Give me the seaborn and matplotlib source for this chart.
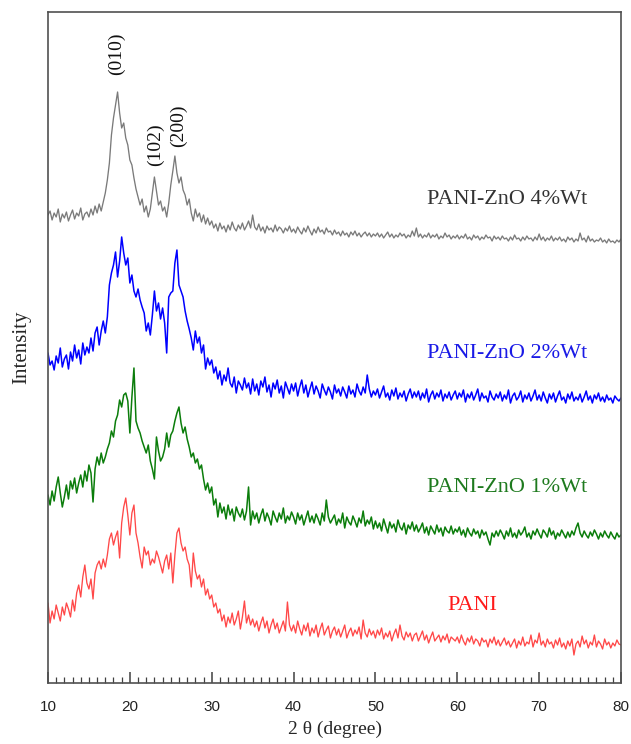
import numpy as np
import pandas as pd
import matplotlib
matplotlib.use("Agg")
import matplotlib.pyplot as plt
import seaborn as sns
from matplotlib.ticker import MultipleLocator

# 2-theta grid (degrees), 0.25 deg sampling from 10 to 80
two_theta = np.arange(10.0, 80.0 + 1e-9, 0.25)

# Intensities (arbitrary units, curves already stacked with their offsets)
zno4 = [
    468, 472, 463, 470, 466, 474, 461, 469, 465, 471, 462, 468, 473, 464, 470, 467, 475, 463, 469, 471,
    466, 474, 468, 477, 470, 479, 472, 481, 490, 503, 520, 548, 565, 578, 591, 570, 555, 560, 545, 538,
    523, 518, 505, 494, 486, 478, 484, 471, 477, 466, 474, 490, 506, 492, 478, 482, 472, 476, 466, 480,
    498, 512, 527, 510, 500, 506, 493, 488, 478, 484, 470, 462, 474, 466, 470, 461, 468, 459, 465, 458,
    462, 455, 459, 452, 460, 454, 457, 451, 458, 453, 461, 455, 452, 458, 454, 460, 453, 457, 462, 455,
    468, 456, 453, 459, 452, 456, 450, 457, 453, 455, 451, 458, 452, 456, 454, 450, 455, 452, 457, 451,
    454, 450, 456, 452, 449, 455, 451, 457, 452, 448, 454, 450, 456, 451, 453, 449, 455, 451, 452, 448,
    453, 449, 451, 447, 452, 448, 450, 446, 451, 448, 452, 447, 450, 446, 449, 451, 447, 450, 446, 449,
    447, 450, 446, 449, 445, 448, 451, 446, 449, 445, 448, 446, 450, 447, 449, 445, 448, 446, 452, 447,
    455, 446, 449, 445, 448, 446, 450, 445, 448, 446, 449, 444, 447, 445, 450, 446, 448, 444, 447, 445,
    448, 444, 447, 445, 449, 444, 446, 443, 448, 445, 447, 443, 446, 444, 448, 445, 446, 442, 447, 444,
    446, 443, 447, 444, 445, 442, 446, 443, 448, 444, 445, 442, 446, 443, 447, 444, 445, 442, 446, 443,
    449, 443, 446, 442, 445, 443, 447, 442, 445, 443, 446, 442, 444, 441, 446, 443, 445, 441, 444, 442,
    450, 443, 445, 441, 447, 442, 444, 441, 443, 442, 445, 441, 443, 440, 444, 441, 442, 440, 443, 441,
    444,
]

zno2 = [
    330, 318, 322, 313, 327, 320, 335, 316, 324, 328, 314, 331, 322, 338, 325, 333, 319, 340, 328, 336,
    330, 345, 332, 350, 356, 338, 352, 362, 350, 366, 398, 410, 418, 431, 406, 422, 446, 430, 418, 425,
    400, 408, 392, 386, 394, 383, 376, 370, 352, 360, 348, 368, 392, 372, 380, 364, 375, 360, 330, 386,
    390, 392, 420, 433, 398, 392, 386, 372, 362, 354, 345, 333, 352, 340, 346, 330, 338, 314, 325, 318,
    323, 310, 316, 304, 312, 298, 308, 302, 315, 300, 296, 306, 290, 302, 298, 293, 305, 295, 300, 289,
    304, 292, 299, 288, 302, 296, 306, 291, 298, 286, 300, 294, 303, 290, 297, 285, 301, 295, 289, 299,
    292, 300, 287, 296, 303, 290, 298, 286, 294, 301, 289, 297, 292, 285, 299, 293, 288, 296, 291, 284,
    298, 290, 294, 287, 296, 291, 285, 297, 289, 293, 286, 299, 292, 288, 296, 290, 308, 294, 286, 292,
    288, 294, 285, 291, 297, 286, 290, 283, 293, 287, 295, 284, 290, 286, 292, 282, 289, 294, 285, 291,
    286, 292, 283, 290, 285, 294, 281, 288, 292, 284, 290, 286, 293, 282, 289, 285, 291, 283, 288, 292,
    284, 290, 286, 293, 281, 289, 285, 291, 283, 288, 294, 282, 290, 285, 287, 281, 292, 286, 283, 289,
    285, 291, 282, 288, 284, 293, 280, 287, 290, 283, 286, 292, 281, 288, 284, 290, 282, 287, 293, 283,
    288, 282, 291, 285, 280, 289, 284, 290, 281, 287, 292, 283, 286, 280, 289, 284, 291, 282, 286, 283,
    289, 281, 286, 292, 283, 287, 280, 288, 284, 290, 282, 286, 281, 288, 283, 285, 280, 287, 284, 282,
    285,
]

zno1 = [
    188, 178, 192, 182, 196, 206, 190, 176, 186, 198, 184, 202, 194, 205, 190, 200, 208, 196, 212, 202,
    218, 210, 181, 214, 226, 218, 230, 220, 226, 234, 240, 252, 246, 262, 268, 283, 276, 288, 290, 282,
    250, 286, 315, 262, 255, 250, 242, 236, 230, 238, 222, 214, 204, 246, 232, 222, 226, 234, 250, 236,
    248, 252, 262, 270, 276, 260, 250, 256, 244, 236, 226, 230, 220, 224, 214, 218, 204, 193, 200, 190,
    196, 178, 184, 166, 180, 170, 176, 164, 178, 168, 174, 162, 176, 170, 166, 174, 163, 172, 196, 158,
    172, 164, 170, 160, 168, 174, 162, 170, 165, 158, 172, 166, 161, 170, 164, 175, 160, 167, 163, 171,
    166, 159, 170, 163, 168, 158, 165, 172, 161, 167, 160, 169, 164, 158, 170, 162, 183, 166, 160, 164,
    168, 158, 164, 160, 170, 155, 166, 161, 158, 167, 162, 156, 165, 160, 172, 157, 163, 159, 166, 154,
    162, 155, 160, 152, 164, 157, 150, 161, 155, 159, 151, 163, 156, 153, 160, 149, 158, 154, 161, 152,
    158, 151, 155, 160, 150, 156, 148, 157, 153, 149, 158, 151, 155, 147, 156, 152, 150, 157, 149, 154,
    151, 156, 148, 153, 146, 155, 150, 147, 154, 149, 152, 145, 153, 148, 151, 144, 138, 150, 146, 152,
    147, 153, 149, 144, 152, 147, 155, 146, 150, 145, 153, 148, 151, 156, 146, 150, 144, 152, 148, 154,
    149, 145, 153, 150, 146, 155, 148, 152, 144, 150, 147, 153, 149, 145, 151, 146, 152, 148, 155, 160,
    150, 146, 152, 148, 145, 151, 147, 153, 149, 144, 150, 146, 152, 148, 145, 151, 147, 144, 150, 146,
    148,
]

pani = [
    80, 60, 72, 64, 78, 70, 62, 76, 68, 80, 74, 66, 83, 72, 90, 98, 86, 106, 118, 100,
    94, 104, 84, 110, 118, 122, 114, 124, 116, 128, 144, 150, 138, 146, 152, 125, 160, 176, 185, 168,
    148, 170, 178, 150, 140, 126, 115, 136, 128, 132, 118, 124, 120, 132, 126, 118, 110, 122, 128, 114,
    130, 100, 128, 150, 155, 140, 132, 136, 124, 118, 96, 130, 112, 104, 108, 96, 104, 88, 94, 84,
    88, 76, 80, 70, 74, 62, 68, 56, 66, 60, 70, 58, 64, 72, 54, 66, 82, 60, 68, 58,
    64, 56, 62, 52, 60, 66, 55, 62, 50, 58, 64, 54, 60, 50, 56, 62, 52, 81, 58, 52,
    58, 50, 62, 54, 48, 58, 52, 60, 47, 55, 50, 58, 46, 54, 60, 48, 53, 57, 45, 52,
    56, 48, 54, 46, 52, 58, 45, 51, 55, 47, 53, 49, 56, 44, 63, 50, 46, 54, 48, 52,
    45, 53, 48, 55, 44, 50, 46, 52, 42, 49, 54, 45, 58, 47, 43, 51, 46, 50, 42, 48,
    50, 42, 47, 52, 43, 48, 40, 46, 51, 42, 45, 48, 41, 47, 43, 49, 40, 46, 44, 42,
    46, 40, 48, 42, 38, 45, 41, 47, 39, 44, 42, 37, 45, 41, 43, 36, 44, 40, 46, 38,
    43, 37, 41, 45, 38, 42, 36, 40, 44, 35, 42, 38, 46, 37, 41, 39, 48, 36, 43, 40,
    50, 38, 42, 36, 44, 39, 41, 35, 43, 38, 45, 36, 40, 34, 42, 37, 44, 28, 39, 42,
    36, 47, 39, 43, 35, 41, 38, 48, 36, 42, 39, 34, 44, 38, 41, 35, 40, 37, 43, 39,
    38,
]

series_names = ["PANI-ZnO 4%Wt", "PANI-ZnO 2%Wt", "PANI-ZnO 1%Wt", "PANI"]
series_values = [zno4, zno2, zno1, pani]
line_colors = ["#7a7a7a", "#0000ff", "#0b7d0b", "#ff4848"]
line_widths = [0.95, 1.1, 1.1, 0.95]

label_colors = ["#333333", "#1a1ae6", "#1e7a1e", "#ff1a1a"]
label_x = [75.9, 75.9, 75.9, 61.8]
label_y = [483, 330, 195, 78]
label_ha = ["right", "right", "right", "center"]

peak_labels = ["(010)", "(102)", "(200)"]
peak_x = [18.4, 23.1, 25.9]
peak_y = [629, 538, 557]

frames = []
for name, vals in zip(series_names, series_values):
    assert len(vals) == len(two_theta), (name, len(vals))
    frames.append(pd.DataFrame({"two_theta": two_theta, "intensity": vals, "sample": name}))
df = pd.concat(frames, ignore_index=True)

sns.set_style("white")
plt.rcParams["font.family"] = ["Liberation Serif", "DejaVu Serif"]

fig = plt.figure(figsize=(6.31, 7.44), dpi=100)
ax = fig.add_axes([48 / 631, 1 - 683 / 744, (621 - 48) / 631, (683 - 12) / 744])

for name, col, lw in zip(series_names, line_colors, line_widths):
    sub = df[df["sample"] == name]
    sns.lineplot(data=sub, x="two_theta", y="intensity", color=col, lw=lw,
                 estimator=None, sort=False, ax=ax, legend=False)

for name, col, x, y, ha in zip(series_names, label_colors, label_x, label_y, label_ha):
    ax.text(x, y, name, color=col, fontsize=16, ha=ha, va="center")

for lab, x, y in zip(peak_labels, peak_x, peak_y):
    ax.text(x, y, lab, rotation=90, fontsize=14, ha="center", va="center", color="#111111")

ax.set_xlim(10, 80)
ax.set_ylim(0, 671)
ax.xaxis.set_major_locator(MultipleLocator(10))
ax.xaxis.set_minor_locator(MultipleLocator(1))
ax.set_yticks([])
ax.tick_params(axis="x", which="major", direction="in", length=8, width=1.1,
               color="#404040", bottom=True, top=False, pad=12)
ax.tick_params(axis="x", which="minor", direction="in", length=4, width=0.9,
               color="#404040", bottom=True, top=False)
for lab in ax.get_xticklabels():
    lab.set_fontfamily("Liberation Sans")
    lab.set_fontsize(11)
    lab.set_color("#222222")

for sp in ax.spines.values():
    sp.set_visible(True)
    sp.set_color("#505050")
    sp.set_linewidth(1.2)

ax.set_xlabel("2 \u03b8 (degree)", fontsize=14, labelpad=5)
ax.set_ylabel("Intensity", fontsize=15, labelpad=12)

fig.savefig("out.png", dpi=100)
